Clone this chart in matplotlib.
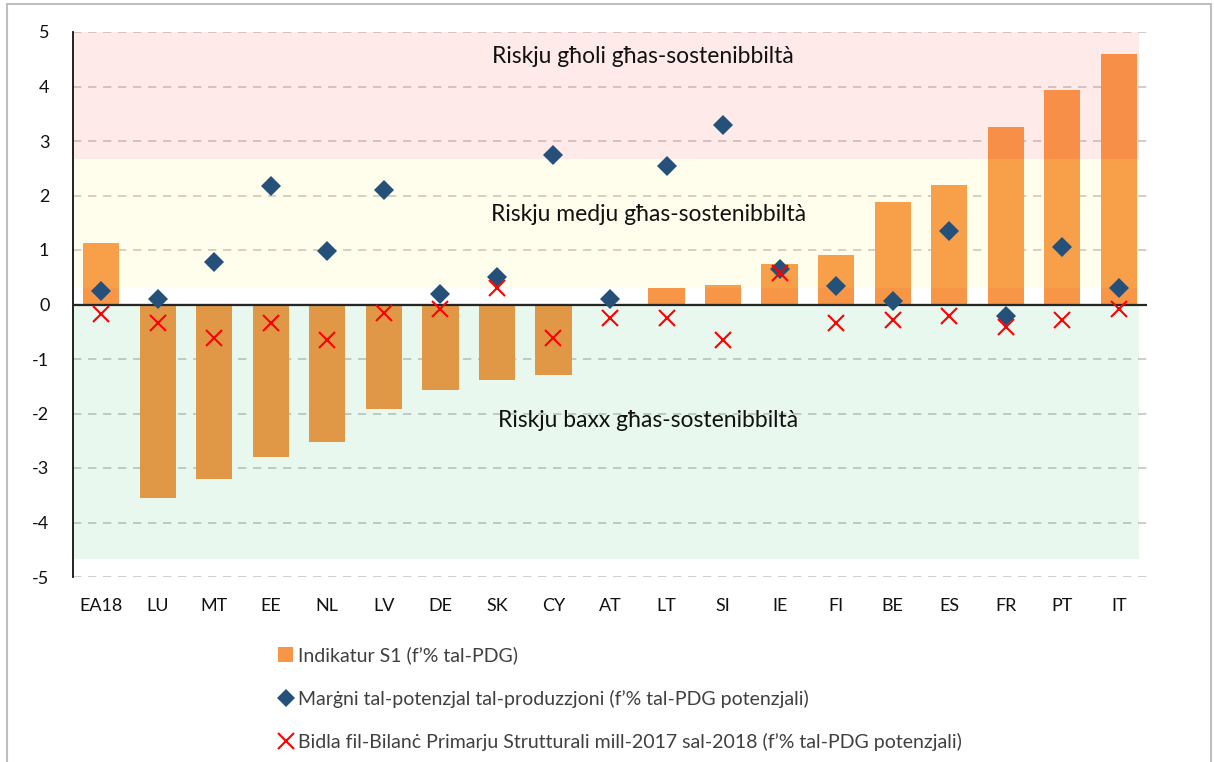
import matplotlib
matplotlib.use("Agg")
import matplotlib.pyplot as plt
from matplotlib.lines import Line2D
from matplotlib.patches import Patch, Rectangle
import numpy as np

plt.rcParams['font.family'] = ['Lato', 'DejaVu Sans']

countries = ["EA18", "LU", "MT", "EE", "NL", "LV", "DE", "SK", "CY", "AT",
             "LT", "SI", "IE", "FI", "BE", "ES", "FR", "PT", "IT"]
s1_indicator = [1.12, -3.55, -3.20, -2.80, -2.52, -1.92, -1.57, -1.38, -1.30, 0.0,
                0.30, 0.36, 0.74, 0.90, 1.88, 2.20, 3.26, 3.93, 4.60]
output_gap = [0.25, 0.10, 0.78, 2.17, 0.98, 2.10, 0.20, 0.50, 2.74, 0.10,
              2.55, 3.29, 0.65, 0.34, 0.07, 1.35, -0.22, 1.06, 0.31]
spb_change = [-0.18, -0.34, -0.62, -0.34, -0.66, -0.16, -0.08, 0.31, -0.62, -0.25,
              -0.25, -0.66, 0.57, -0.34, -0.28, -0.22, -0.42, -0.28, -0.08]

yticks = [-5, -4, -3, -2, -1, 0, 1, 2, 3, 4, 5]
risk_labels = ["Riskju għoli għas-sostenibbiltà",
               "Riskju medju għas-sostenibbiltà",
               "Riskju baxx għas-sostenibbiltà"]
legend_labels = ["Indikatur S1 (f’% tal-PDG)",
                 "Marġni tal-potenzjal tal-produzzjoni (f’% tal-PDG potenzjali)",
                 "Bidla fil-Bilanċ Primarju Strutturali mill-2017 sal-2018 (f’% tal-PDG potenzjali)"]

fig = plt.figure(figsize=(12.14, 7.62), dpi=100)
ax = fig.add_axes([73/1214, 1-577/762, (1147-73)/1214, (577-32)/762])

x = np.arange(len(countries))
bar_color = '#F79646'
diamond_color = '#24507A'

ax.set_ylim(-5, 5)
ax.set_xlim(-0.5, len(countries) - 0.5)
ax.set_yticks(yticks)
ax.set_yticklabels([str(t) for t in yticks])
ax.yaxis.grid(True, linestyle=(0, (5, 4)), color='#CCC4C4', linewidth=1.2, zorder=0.5)
ax.set_axisbelow(True)

ax.bar(x, s1_indicator, width=0.64, color=bar_color, zorder=1)

# risk bands (semi-transparent, over bars)
xm = 0.993
ax.axhspan(2.67, 5.0, xmin=0, xmax=xm, color='#FF6464', alpha=0.13, lw=0, zorder=2)
ax.axhspan(0.30, 2.67, xmin=0, xmax=xm, color='#FFF060', alpha=0.12, lw=0, zorder=2)
ax.axhspan(-4.67, 0.03, xmin=0, xmax=xm, color='#00B050', alpha=0.085, lw=0, zorder=2)

ax.axhline(0, color='#262626', lw=1.6, zorder=3)

ax.plot(x, output_gap, ls='none', marker='D', ms=10, color=diamond_color,
        markeredgewidth=0, zorder=4)
ax.plot(x, spb_change, ls='none', marker='x', ms=11, color='#FF0000',
        markeredgewidth=1.5, zorder=5)

ax.text(9.58, 4.55, risk_labels[0], ha='center', va='center', fontsize=16.5, color='#111111', zorder=6)
ax.text(9.68, 1.65, risk_labels[1], ha='center', va='center', fontsize=16.5, color='#111111', zorder=6)
ax.text(9.68, -2.12, risk_labels[2], ha='center', va='center', fontsize=16.5, color='#111111', zorder=6)

ax.set_xticks(x)
ax.set_xticklabels(countries)
ax.tick_params(axis='y', length=0, pad=17, labelsize=13, labelcolor='#111111')
ax.tick_params(axis='x', length=0, pad=15, labelsize=13, labelcolor='#111111')

for s in ['top', 'right', 'bottom']:
    ax.spines[s].set_visible(False)
ax.spines['left'].set_color('#111111')
ax.spines['left'].set_linewidth(1.3)

handles = [Patch(facecolor=bar_color, edgecolor='none'),
           Line2D([], [], ls='none', marker='D', ms=9, color=diamond_color, markeredgewidth=0),
           Line2D([], [], ls='none', marker='x', ms=11, color='#FF0000', markeredgewidth=1.5)]
leg = fig.legend(handles, legend_labels, loc='upper left',
                 bbox_to_anchor=(268/1214, 1-637/762), frameon=False,
                 fontsize=14, labelspacing=1.3, handlelength=0.8, handletextpad=0.25,
                 borderpad=0, handleheight=0.8)
for t in leg.get_texts():
    t.set_color('#404040')

fig.add_artist(Rectangle((7/1214, -0.05), (1211-7)/1214, 1.05 - 4/762,
                         transform=fig.transFigure, fill=False,
                         edgecolor='#BFBFBF', lw=1.5))

fig.savefig('out.png', dpi=100)
